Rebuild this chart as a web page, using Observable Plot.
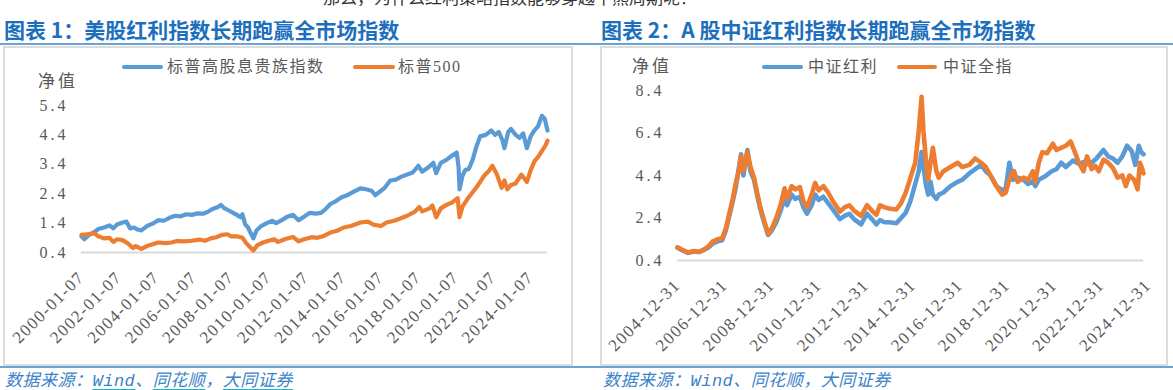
<!DOCTYPE html>
<html><head><meta charset="utf-8">
<script src="https://cdn.jsdelivr.net/npm/d3@7"></script>
<script src="https://cdn.jsdelivr.net/npm/@observablehq/plot@0.6"></script>
<style>
body{margin:0;background:#fff;width:1173px;height:390px;position:relative;overflow:hidden;font-family:"Noto Sans CJK SC",sans-serif;}
.abs{position:absolute;white-space:nowrap;}
.title{font-size:21px;font-weight:bold;color:#1c6fbd;line-height:24px;top:17px;}
.rule{position:absolute;height:2px;background:#6aa3d8;}
.box{position:absolute;border:2px solid #dcdcdc;box-sizing:border-box;top:46px;height:320px;}
.leg{font-size:16px;letter-spacing:1.5px;color:#595959;line-height:20px;font-family:"Liberation Serif","Noto Sans CJK SC",serif;}
.sw{position:absolute;height:4px;border-radius:2px;}
.cap{font-size:17px;font-style:italic;color:#3b82c8;line-height:22px;top:371px;font-family:"Liberation Mono","Noto Sans CJK SC",monospace;letter-spacing:0.5px;}
.cap u{text-decoration-color:#19b3c9;text-decoration-thickness:2px;text-underline-offset:3px;}
.plot{position:absolute;top:48px;}
.plot svg{overflow:visible;}
g[aria-label="y-axis tick label"] text{letter-spacing:3px;}
g[aria-label="x-axis tick label"] text{letter-spacing:1.4px;}
</style></head><body>
<div class="abs" style="left:323px;top:-13px;font-size:17px;line-height:20px;color:#333;">那么，为什么红利策略指数能够穿越牛熊周期呢？</div>
<div class="abs title" style="left:4px;">图表 1：美股红利指数长期跑赢全市场指数</div>
<div class="abs title" style="left:601px;">图表 2：A 股中证红利指数长期跑赢全市场指数</div>
<div class="rule" style="left:0;width:1173px;top:43px;"></div>
<div class="box" style="left:3px;width:570px;"></div>
<div class="box" style="left:600px;width:568px;"></div>
<div class="rule" style="left:0;width:1173px;top:366px;"></div>

<div id="p1" class="plot" style="left:4px;"></div>
<div id="p2" class="plot" style="left:601px;"></div>

<div class="abs leg" style="left:38px;top:72px;font-size:17px;letter-spacing:3px;">净值</div>
<div class="sw" style="left:122px;width:41px;top:65px;background:#5b9bd5;"></div>
<div class="abs leg" style="left:167px;top:57px;">标普高股息贵族指数</div>
<div class="sw" style="left:353px;width:42px;top:65px;background:#ed7d31;"></div>
<div class="abs leg" style="left:398px;top:57px;">标普500</div>

<div class="abs leg" style="left:632px;top:57px;font-size:17px;letter-spacing:3px;">净值</div>
<div class="sw" style="left:762px;width:41px;top:65px;background:#5b9bd5;"></div>
<div class="abs leg" style="left:808px;top:57px;">中证红利</div>
<div class="sw" style="left:897px;width:40px;top:65px;background:#ed7d31;"></div>
<div class="abs leg" style="left:943px;top:57px;">中证全指</div>

<div class="abs cap" style="left:5px;">数据来源：<u>Wind</u>、<u>同花顺</u>，<u>大同证券</u></div>
<div class="abs cap" style="left:603px;">数据来源：Wind、同花顺，大同证券</div>

<script>
// ---- Chart 1: US ----
const usTickYears = [2000,2002,2004,2006,2008,2010,2012,2014,2016,2018,2020,2022,2024];
const usTickLabels = ["2000-01-07","2002-01-07","2004-01-07","2006-01-07","2008-01-07","2010-01-07","2012-01-07","2014-01-07","2016-01-07","2018-01-07","2020-01-07","2022-01-07","2024-01-07"];
const usYTicks = [0.4,1.4,2.4,3.4,4.4,5.4];

const usDivT = [2000.0,2000.15,2000.4,2000.7,2000.9,2001.2,2001.5,2001.7,2001.9,2002.2,2002.4,2002.6,2002.8,2003.0,2003.2,2003.5,2003.8,2004.1,2004.4,2004.7,2005.0,2005.3,2005.6,2005.9,2006.2,2006.5,2006.8,2007.0,2007.3,2007.45,2007.6,2007.9,2008.1,2008.3,2008.5,2008.6,2008.75,2008.9,2009.05,2009.18,2009.35,2009.6,2009.9,2010.2,2010.4,2010.7,2011.0,2011.3,2011.6,2011.9,2012.2,2012.5,2012.8,2013.0,2013.3,2013.6,2013.9,2014.2,2014.5,2014.9,2015.2,2015.5,2015.7,2015.9,2016.2,2016.5,2016.8,2017.1,2017.4,2017.7,2018.0,2018.2,2018.5,2018.8,2018.95,2019.2,2019.5,2019.8,2020.05,2020.15,2020.2,2020.35,2020.5,2020.7,2020.9,2021.1,2021.3,2021.6,2021.9,2022.1,2022.3,2022.5,2022.6,2022.8,2022.95,2023.2,2023.4,2023.6,2023.8,2024.0,2024.2,2024.4,2024.6,2024.75,2024.9];
const usDivV = [0.95,0.85,1.0,1.1,1.2,1.25,1.32,1.22,1.35,1.42,1.45,1.22,1.25,1.18,1.15,1.3,1.38,1.5,1.48,1.58,1.65,1.63,1.7,1.68,1.73,1.72,1.8,1.88,1.95,2.02,1.92,1.82,1.75,1.68,1.6,1.7,1.35,1.25,1.05,0.88,1.15,1.3,1.4,1.48,1.4,1.5,1.62,1.68,1.5,1.62,1.75,1.72,1.75,1.85,2.05,2.15,2.28,2.35,2.45,2.58,2.55,2.5,2.35,2.45,2.6,2.85,2.88,2.98,3.05,3.12,3.35,3.15,3.28,3.45,3.1,3.45,3.55,3.7,3.8,3.3,2.55,3.0,3.2,3.25,3.55,4.0,4.35,4.4,4.55,4.4,4.5,4.2,3.95,4.5,4.6,4.4,4.3,4.45,3.95,4.35,4.55,4.7,5.05,4.95,4.55];

const usSpxT = [2000.0,2000.3,2000.7,2000.9,2001.2,2001.5,2001.7,2001.9,2002.2,2002.5,2002.75,2002.9,2003.2,2003.5,2003.8,2004.1,2004.5,2004.8,2005.1,2005.5,2005.9,2006.3,2006.6,2006.9,2007.2,2007.5,2007.8,2008.0,2008.3,2008.6,2008.8,2008.95,2009.18,2009.4,2009.7,2010.0,2010.3,2010.5,2010.9,2011.3,2011.6,2011.9,2012.3,2012.6,2012.9,2013.3,2013.7,2014.0,2014.4,2014.9,2015.3,2015.6,2016.0,2016.3,2016.7,2017.0,2017.4,2017.8,2018.05,2018.2,2018.6,2018.75,2018.95,2019.2,2019.5,2019.8,2020.1,2020.2,2020.35,2020.6,2020.9,2021.2,2021.5,2021.8,2021.95,2022.2,2022.45,2022.6,2022.75,2022.95,2023.2,2023.5,2023.8,2024.0,2024.2,2024.4,2024.6,2024.8,2024.9];
const usSpxV = [1.0,1.02,1.05,0.95,0.88,0.9,0.76,0.85,0.82,0.7,0.55,0.62,0.52,0.62,0.68,0.74,0.72,0.74,0.79,0.78,0.8,0.84,0.8,0.88,0.92,1.0,1.02,0.95,0.95,0.9,0.72,0.62,0.47,0.65,0.74,0.8,0.85,0.76,0.86,0.93,0.78,0.85,0.92,0.9,0.95,1.08,1.15,1.25,1.3,1.42,1.45,1.35,1.3,1.42,1.48,1.55,1.65,1.78,1.95,1.8,1.9,2.0,1.6,1.9,2.02,2.1,2.25,1.6,1.95,2.2,2.45,2.7,3.0,3.2,3.35,3.05,2.6,2.85,2.55,2.7,2.75,3.05,2.8,3.2,3.5,3.65,3.85,4.05,4.2];

// ---- Chart 2: China ----
const cnTickYears = [2005,2007,2009,2011,2013,2015,2017,2019,2021,2023,2025];
const cnTickLabels = ["2004-12-31","2006-12-31","2008-12-31","2010-12-31","2012-12-31","2014-12-31","2016-12-31","2018-12-31","2020-12-31","2022-12-31","2024-12-31"];
const cnYTicks = [0.4,2.4,4.4,6.4,8.4];

const cnAllT = [2005.0,2005.2,2005.45,2005.7,2005.9,2006.1,2006.3,2006.5,2006.7,2006.9,2007.05,2007.2,2007.35,2007.45,2007.6,2007.7,2007.8,2007.97,2008.1,2008.25,2008.4,2008.5,2008.65,2008.85,2009.0,2009.2,2009.4,2009.55,2009.65,2009.85,2010.0,2010.2,2010.35,2010.5,2010.7,2010.85,2011.0,2011.2,2011.4,2011.6,2011.9,2012.1,2012.3,2012.5,2012.8,2013.05,2013.3,2013.45,2013.6,2013.8,2014.0,2014.3,2014.5,2014.7,2014.9,2015.1,2015.25,2015.37,2015.45,2015.55,2015.65,2015.75,2015.85,2016.0,2016.1,2016.3,2016.6,2016.9,2017.1,2017.4,2017.65,2017.9,2018.1,2018.3,2018.55,2018.8,2018.95,2019.15,2019.3,2019.45,2019.7,2019.9,2020.1,2020.2,2020.35,2020.5,2020.7,2020.95,2021.1,2021.3,2021.5,2021.7,2021.85,2022.05,2022.25,2022.4,2022.6,2022.75,2022.9,2023.1,2023.3,2023.5,2023.7,2023.9,2024.05,2024.2,2024.4,2024.55,2024.65,2024.75,2024.8];
const cnAllV = [1.02,0.9,0.78,0.85,0.8,0.9,1.05,1.3,1.4,1.45,1.9,2.6,3.3,3.9,4.6,5.3,4.6,5.5,4.8,4.3,3.5,3.0,2.4,1.65,1.9,2.4,3.1,3.8,3.3,3.9,3.75,3.85,3.2,2.9,3.5,4.05,3.7,3.9,3.6,3.2,2.7,2.9,3.0,2.75,2.5,3.0,2.7,2.55,3.0,2.9,2.85,2.8,3.1,3.6,4.3,5.0,6.5,8.1,6.5,5.2,4.2,5.0,5.7,4.6,4.3,4.6,4.8,5.0,4.8,4.9,5.2,5.0,4.8,4.4,3.9,3.5,3.6,4.4,4.6,4.1,4.3,4.2,4.6,4.1,5.0,5.5,5.45,5.9,5.6,5.7,5.8,6.0,5.6,5.0,4.6,5.3,4.7,4.85,4.6,5.15,5.0,4.75,4.3,4.4,3.9,4.4,4.2,3.75,5.0,4.7,4.5];

const cnDivT = [2005.0,2005.2,2005.45,2005.7,2005.9,2006.1,2006.3,2006.5,2006.7,2006.9,2007.05,2007.2,2007.35,2007.45,2007.6,2007.7,2007.8,2007.97,2008.1,2008.25,2008.4,2008.5,2008.65,2008.85,2009.0,2009.2,2009.4,2009.55,2009.65,2009.85,2010.0,2010.2,2010.35,2010.5,2010.7,2010.85,2011.0,2011.2,2011.4,2011.6,2011.9,2012.1,2012.3,2012.5,2012.8,2013.05,2013.3,2013.45,2013.6,2013.8,2014.0,2014.3,2014.5,2014.7,2014.9,2015.1,2015.25,2015.37,2015.45,2015.55,2015.65,2015.75,2015.85,2016.0,2016.1,2016.3,2016.6,2016.9,2017.1,2017.4,2017.65,2017.9,2018.1,2018.3,2018.55,2018.8,2018.95,2019.1,2019.25,2019.45,2019.7,2019.9,2020.1,2020.2,2020.35,2020.6,2020.9,2021.1,2021.3,2021.5,2021.8,2022.05,2022.3,2022.5,2022.8,2023.1,2023.3,2023.5,2023.7,2023.9,2024.1,2024.3,2024.45,2024.6,2024.7,2024.8];
const cnDivV = [1.0,0.88,0.76,0.82,0.8,0.88,1.0,1.2,1.3,1.35,1.8,2.5,3.2,3.7,4.7,5.4,4.4,5.6,4.6,4.2,3.4,2.9,2.3,1.6,1.8,2.2,2.8,3.4,3.0,3.5,3.3,3.4,2.9,2.6,3.0,3.5,3.25,3.4,3.1,2.8,2.35,2.5,2.6,2.35,2.1,2.6,2.3,2.1,2.3,2.2,2.2,2.15,2.4,2.65,3.2,4.0,4.6,5.5,4.8,4.0,3.5,4.1,3.5,3.3,3.5,3.6,3.9,4.1,4.2,4.5,4.7,4.9,4.6,4.4,3.9,3.7,3.8,5.0,4.2,4.3,4.2,4.0,4.15,3.9,4.2,4.35,4.6,4.7,5.0,4.8,5.1,4.95,5.05,4.9,5.2,5.6,5.3,5.2,5.0,5.3,5.8,5.55,4.9,5.8,5.5,5.4];

const BLUE = "#5b9bd5", ORANGE = "#ed7d31";

function chart({width, height, mL, mR, mT, mB, xDomain, yDomain, yTicks, xTicks, xLabels, series, sw}) {
  const marks = [Plot.ruleY([yDomain[0]], {stroke: "#d9d9d9", strokeWidth: 2})];
  for (const s of series) {
    marks.push(Plot.line(s.t.map((t, i) => ({t, v: s.v[i]})), {
      x: "t", y: "v", stroke: s.color, strokeWidth: sw, strokeLinejoin: "round", strokeLinecap: "round"
    }));
  }
  marks.push(Plot.axisY(yTicks, {tickSize: 0, tickPadding: 13, tickFormat: d => d.toFixed(1), fontSize: 16, label: null}));
  marks.push(Plot.axisX(xTicks, {tickSize: 0, tickPadding: 22, tickRotate: -45, fontSize: 17, label: null,
    tickFormat: d => xLabels[xTicks.indexOf(d)]}));
  return Plot.plot({
    width, height, marginLeft: mL, marginRight: mR, marginTop: mT, marginBottom: mB,
    x: {domain: xDomain}, y: {domain: yDomain},
    style: {fontFamily: "'Liberation Serif', serif", color: "#595959", background: "transparent", overflow: "visible"},
    marks
  });
}

document.getElementById("p1").append(chart({
  width: 566, height: 316, mL: 77, mR: 23, mT: 57, mB: 112,
  xDomain: [2000, 2024.9], yDomain: [0.4, 5.4], yTicks: usYTicks, xTicks: usTickYears, xLabels: usTickLabels,
  series: [{t: usDivT, v: usDivV, color: BLUE}, {t: usSpxT, v: usSpxV, color: ORANGE}], sw: 4.2
}));

document.getElementById("p2").append(chart({
  width: 565, height: 316, mL: 76, mR: 23, mT: 42, mB: 104,
  xDomain: [2005, 2024.8], yDomain: [0.4, 8.4], yTicks: cnYTicks, xTicks: cnTickYears, xLabels: cnTickLabels,
  series: [{t: cnDivT, v: cnDivV, color: BLUE}, {t: cnAllT, v: cnAllV, color: ORANGE}], sw: 4.6
}));
</script>
</body></html>
